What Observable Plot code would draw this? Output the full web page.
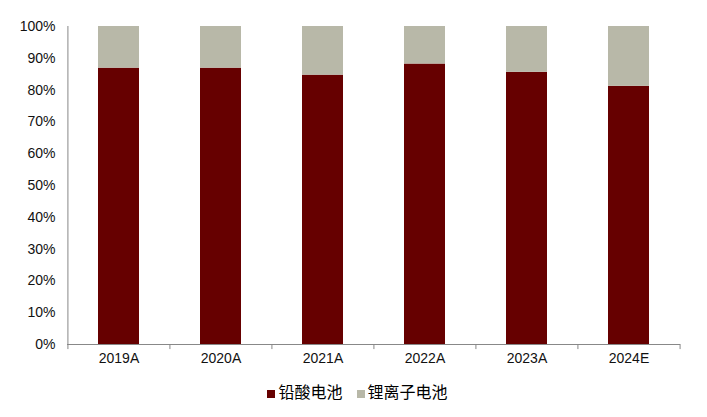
<!DOCTYPE html>
<html><head><meta charset="utf-8">
<script src="https://cdn.jsdelivr.net/npm/d3@7"></script>
<script src="https://cdn.jsdelivr.net/npm/@observablehq/plot@0.6"></script>
<style>
body{margin:0;background:#fff;font-family:"Liberation Sans",Arial,"Noto Sans CJK SC",sans-serif;}
#legend{display:flex;justify-content:center;gap:14px;font-size:16px;color:#000;margin-top:4px;padding-left:8px;font-family:"Noto Sans CJK SC","Liberation Sans",sans-serif;}
#legend span.sw{display:inline-block;width:8px;height:8px;margin-right:3px;vertical-align:middle;}
</style></head>
<body><div id="chart"></div><div id="legend"></div>
<script>
const years = ["2019A","2020A","2021A","2022A","2023A","2024E"];
const leadAcid = [86.9, 86.9, 84.7, 88.2, 85.6, 81.2];
const series = ["铅酸电池","锂离子电池"];
const colors = ["#660000","#b8b8a8"];
const yTicks = [0,10,20,30,40,50,60,70,80,90,100];

const data = [];
years.forEach((y,i)=>{
  data.push({year:y, series:series[0], value:leadAcid[i]});
  data.push({year:y, series:series[1], value:100-leadAcid[i]});
});
const W=707, H=375, mL=67, mR=27;
const band=(W-mL-mR)/years.length;
const chart = Plot.plot({
  width:W, height:H, marginTop:26, marginBottom:31, marginLeft:mL, marginRight:mR,
  style:{fontFamily:"Liberation Sans, Arial, sans-serif", fontSize:"14px", color:"#111", background:"#fff"},
  x:{domain:years, paddingInner:0.6, paddingOuter:0.3, label:null, tickSize:0, tickPadding:9},
  y:{domain:[0,100], ticks:yTicks, tickFormat:d=>d+"%", label:null, tickSize:0, tickPadding:12},
  color:{domain:series, range:colors},
  marks:[
    Plot.barY(data, Plot.stackY({x:"year", y:"value", fill:"series", order:series})),
    Plot.ruleY([0], {stroke:"#888", strokeWidth:1}),
    Plot.ruleX(years, {x:d=>d, dx:-band/2, y1:0, y2:-1.6, stroke:"#888"}),
    Plot.ruleX([years[years.length-1]], {x:d=>d, dx:band/2, y1:0, y2:-1.6, stroke:"#888"}),
    Plot.ruleX([years[0]], {x:d=>d, dx:-band/2, y1:0, y2:100, stroke:"#888"})
  ]
});
document.getElementById("chart").appendChild(chart);
const lg=document.getElementById("legend");
series.forEach((s,i)=>{
  const d=document.createElement("div");
  d.innerHTML=`<span class="sw" style="background:${colors[i]}"></span>${s}`;
  lg.appendChild(d);
});
</script></body></html>
